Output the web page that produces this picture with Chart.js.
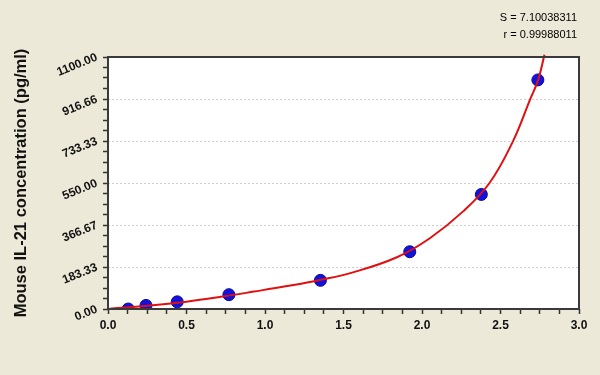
<!DOCTYPE html>
<html>
<head>
<meta charset="utf-8">
<script src="https://cdn.jsdelivr.net/npm/chart.js@4"></script>
<style>
  html, body { margin: 0; padding: 0; background: #ece9d8; }
  canvas { display: block; }
</style>
</head>
<body>
<canvas id="chart" width="600" height="375"></canvas>
<script>
// Measured standards (OD vs concentration)
const stdOD = [0.129, 0.242, 0.441, 0.770, 1.353, 1.922, 2.378, 2.738];
const stdConc = [0, 15.6, 31.25, 62.5, 125, 250, 500, 1000];

// Fitted curve
const fitOD = [0, 0.25, 0.5, 0.71, 0.93, 1.14, 1.35, 1.56, 1.84, 2.05, 2.26, 2.43, 2.58, 2.69, 2.74, 2.78];
const fitConc = [0, 14, 32, 52, 76, 100, 127, 160, 226, 309, 425, 550, 733, 917, 1000, 1110];

// Axis labels
const xTickLabels = ["0.0", "0.5", "1.0", "1.5", "2.0", "2.5", "3.0"];
const yTickLabels = ["0.00", "183.33", "366.67", "550.00", "733.33", "916.66", "1100.00"];
const yTitle = "Mouse IL-21 concentration (pg/ml)";
const fitStats = ["S = 7.10038311", "r = 0.99988011"];

const FONT = "'Liberation Sans', Arial, sans-serif";
const MINOR = 4; // tick subdivisions between labelled ticks

// build tick positions incl. minor ticks
function majorMinorTicks(labels, max) {
  const n = (labels.length - 1) * MINOR;
  const out = [];
  for (let i = 0; i <= n; i++) out.push({ value: (max * i) / n });
  return out;
}

const framePlugin = {
  id: "frame",
  beforeDraw(chart) {
    const { ctx, chartArea: a } = chart;
    ctx.save();
    ctx.fillStyle = "#ece9d8";
    ctx.fillRect(0, 0, chart.width, chart.height);
    ctx.fillStyle = "#ffffff";
    ctx.fillRect(a.left, a.top, a.right - a.left, a.bottom - a.top);
    ctx.restore();
  },
  afterDatasetsDraw(chart) {
    const { ctx, chartArea: a } = chart;
    ctx.save();
    ctx.strokeStyle = "#3a3a3a";
    ctx.lineWidth = 2;
    ctx.strokeRect(a.left, a.top, a.right - a.left, a.bottom - a.top);
    // fit statistics, top right
    ctx.fillStyle = "#000";
    ctx.font = "11px " + FONT;
    ctx.textAlign = "right";
    ctx.textBaseline = "middle";
    ctx.fillText(fitStats[0], 577, 18);
    ctx.fillText(fitStats[1], 577, 35);
    ctx.restore();
  }
};

new Chart(document.getElementById("chart"), {
  type: "scatter",
  data: {
    datasets: [
      {
        label: "fit",
        data: fitOD.map((x, i) => ({ x, y: fitConc[i] })),
        showLine: true,
        borderColor: "#e01010",
        borderWidth: 2,
        pointRadius: 0,
        tension: 0.4,
        clip: false,
        order: 0
      },
      {
        label: "standards",
        data: stdOD.map((x, i) => ({ x, y: stdConc[i] })),
        pointRadius: 6,
        backgroundColor: "#1212dc",
        borderColor: "#0a0a9a",
        borderWidth: 1,
        order: 1
      }
    ]
  },
  options: {
    responsive: false,
    animation: false,
    layout: { padding: { top: 57, right: 21, bottom: 0, left: 0 } },
    plugins: { legend: { display: false }, tooltip: { enabled: false } },
    scales: {
      x: {
        type: "linear",
        min: 0,
        max: 3,
        afterBuildTicks: s => { s.ticks = majorMinorTicks(xTickLabels, 3); },
        afterFit: s => { s.height = 66; },
        grid: { drawOnChartArea: false, tickLength: 5, tickColor: "#333", tickWidth: 1.5 },
        border: { display: false },
        ticks: {
          autoSkip: false,
          maxRotation: 0,
          padding: 4,
          color: "#111",
          font: { family: FONT, size: 12, weight: "bold" },
          callback: (v, i) => (i % MINOR === 0 ? xTickLabels[i / MINOR] : "")
        }
      },
      y: {
        type: "linear",
        min: 0,
        max: 1100,
        afterBuildTicks: s => { s.ticks = majorMinorTicks(yTickLabels, 1100); },
        afterFit: s => { s.width = 108; },
        grid: {
          tickLength: 5,
          tickColor: "#333",
          tickWidth: 1.5,
          lineWidth: 1,
          color: c => (c.index % MINOR === 0 ? "#cfcfcf" : "rgba(0,0,0,0)")
        },
        border: { display: false, dash: [2, 2] },
        title: {
          display: true,
          text: yTitle,
          color: "#111",
          padding: { top: 12, bottom: 0 },
          font: { family: FONT, size: 16.5, weight: "bold" }
        },
        ticks: {
          autoSkip: false,
          minRotation: 22,
          maxRotation: 22,
          padding: 6,
          color: "#111",
          font: { family: FONT, size: 12, weight: "bold" },
          callback: (v, i) => (i % MINOR === 0 ? yTickLabels[i / MINOR] : "")
        }
      }
    }
  },
  plugins: [framePlugin]
});
</script>
</body>
</html>
